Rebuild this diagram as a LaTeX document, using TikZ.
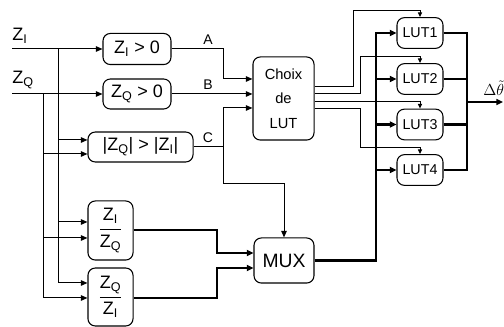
\documentclass[tikz,border=0pt]{standalone}
\usepackage{fontspec}
\setmainfont{Liberation Sans}
\usetikzlibrary{arrows.meta,calc}
\begin{document}
\begin{tikzpicture}[x=0.75pt,y=-0.75pt,
  blk/.style={draw,line width=0.8pt,rounded corners=5.5pt,inner sep=0pt,align=center},
  wire/.style={line width=0.75pt},
  thick wire/.style={line width=1.9pt},
  arr/.style={wire,-{Triangle[length=5pt,width=4.2pt]}},
  sarr/.style={wire,-{Triangle[length=3.5pt,width=3pt]}},
  tarr/.style={thick wire,-{Triangle[length=5pt,width=4.5pt]}},
  lbl/.style={font=\fontsize{10.5pt}{12pt}\selectfont,inner sep=0pt}]
\useasboundingbox (0,0) rectangle (504,327);

% blocks
\node[blk,minimum width=51pt,minimum height=23.3pt,font=\fontsize{13.5pt}{15pt}\selectfont] (zi0) at (137,49) {Z\textsubscript{I} > 0};
\node[blk,minimum width=51pt,minimum height=22.5pt,font=\fontsize{13.5pt}{15pt}\selectfont] (zq0) at (137,94) {Z\textsubscript{Q} > 0};
\node[blk,minimum width=78.8pt,minimum height=22.5pt,font=\fontsize{13.5pt}{15pt}\selectfont] (cmp) at (140.5,147) {|Z\textsubscript{Q}| > |Z\textsubscript{I}|};
\node[blk,minimum width=45.8pt,minimum height=62.3pt,font=\fontsize{11pt}{18.5pt}\selectfont] (choix) at (283.5,98.5) {Choix\\de\\LUT};
\foreach \i/\y in {1/33,2/79,3/124.5,4/170}
  \node[blk,minimum width=34.5pt,minimum height=23pt,font=\fontsize{10.7pt}{12pt}\selectfont] (lut\i) at (420,\y) {LUT\i};
\node[blk,minimum width=45pt,minimum height=33.8pt,font=\fontsize{14.5pt}{16pt}\selectfont] (mux) at (284,260.5) {MUX};
\node[blk,minimum width=33.8pt,minimum height=44.3pt,font=\fontsize{13.5pt}{15pt}\selectfont] (f1) at (110.5,230.5)
  {$\displaystyle\frac{\mbox{Z\textsubscript{I}}}{\mbox{Z\textsubscript{Q}}}$};
\node[blk,minimum width=33.8pt,minimum height=43.5pt,font=\fontsize{13.5pt}{15pt}\selectfont] (f2) at (110.5,297)
  {$\displaystyle\frac{\mbox{Z\textsubscript{Q}}}{\mbox{Z\textsubscript{I}}}$};

% input labels
\node[anchor=south west,inner sep=0pt,font=\fontsize{13.5pt}{15pt}\selectfont] (lzi) at (12,44) {Z\textsubscript{I}};
\node[anchor=south west,inner sep=0pt,font=\fontsize{13.5pt}{15pt}\selectfont] (lzq) at (12,89) {Z\textsubscript{Q}};

% inputs
\coordinate (zin) at (12,49);
\coordinate (zqn) at (12,94);
\coordinate (ti) at (58,49);
\coordinate (tq) at (43,94);
\draw[arr] (zin) -- (zi0.west);
\draw[arr] (zqn) -- (zq0.west);
\draw[wire] (ti) -- (58,283);
\draw[wire] (tq) -- (43,298);
\draw[arr] (58,140) -- (cmp.west |- 0,140);
\draw[arr] (43,154) -- (cmp.west |- 0,154);
\draw[arr] (58,222) -- (f1.west |- 0,222);
\draw[arr] (43,238) -- (f1.west |- 0,238);
\draw[arr] (58,283) -- (f2.west |- 0,283);
\draw[arr] (43,298) -- (f2.west |- 0,298);

% A B C
\draw[arr] (zi0.east) -- (223,49) -- (223,79) -- (choix.west |- 0,79);
\node[lbl,anchor=south] (la) at (208,45) {A};
\draw[arr] (zq0.east) -- (choix.west |- 0,94);
\node[lbl,anchor=south] (lb) at (208,90) {B};
\draw[arr] (cmp.east) -- (223,147) -- (223,108) -- (choix.west |- 0,108);
\node[lbl,anchor=south] (lc) at (208,143) {C};
\draw[arr] (223,147) -- (223,184) -- (mux.north |- 0,184) -- (mux.north);

% choix outputs
\draw[sarr] (choix.east |- 0,87) -- (353,87) -- (353,11) -- (lut1.north |- 0,11) -- (lut1.north);
\draw[sarr] (choix.east |- 0,94) -- (360,94) -- (360,57) -- (lut2.north |- 0,57) -- (lut2.north);
\draw[sarr] (choix.east |- 0,102) -- (lut3.north |- 0,102) -- (lut3.north);
\draw[sarr] (choix.east |- 0,109) -- (360,109) -- (360,148) -- (lut4.north |- 0,148) -- (lut4.north);

% fraction outputs to mux
\draw[tarr] (f1.east |- 0,230) -- (217,230) -- (217,253) -- (mux.west |- 0,253);
\draw[tarr] (f2.east |- 0,298) -- (217,298) -- (217,268) -- (mux.west |- 0,268);

% mux bus
\draw[tarr] (mux.east) -- (376,260.5) -- (376,33) -- (lut1.west);
\foreach \i in {2,3,4}
  \draw[tarr] (376,0 |- lut\i.west) -- (lut\i.west);

% LUT outputs
\draw[thick wire] (lut1.east) -- (467,33) -- (467,170) -- (lut4.east);
\draw[thick wire] (lut2.east) -- (467,79);
\draw[thick wire] (lut3.east) -- (467,124.5);
\draw[wire,line width=1.1pt,-{Triangle[length=5pt,width=4.5pt]}] (467,102) -- (503,102);
\node[anchor=south west,inner sep=0pt,font=\fontsize{13pt}{15pt}\selectfont] (dth) at (483,96) {$\Delta\tilde{\theta}$};
\end{tikzpicture}
\end{document}
